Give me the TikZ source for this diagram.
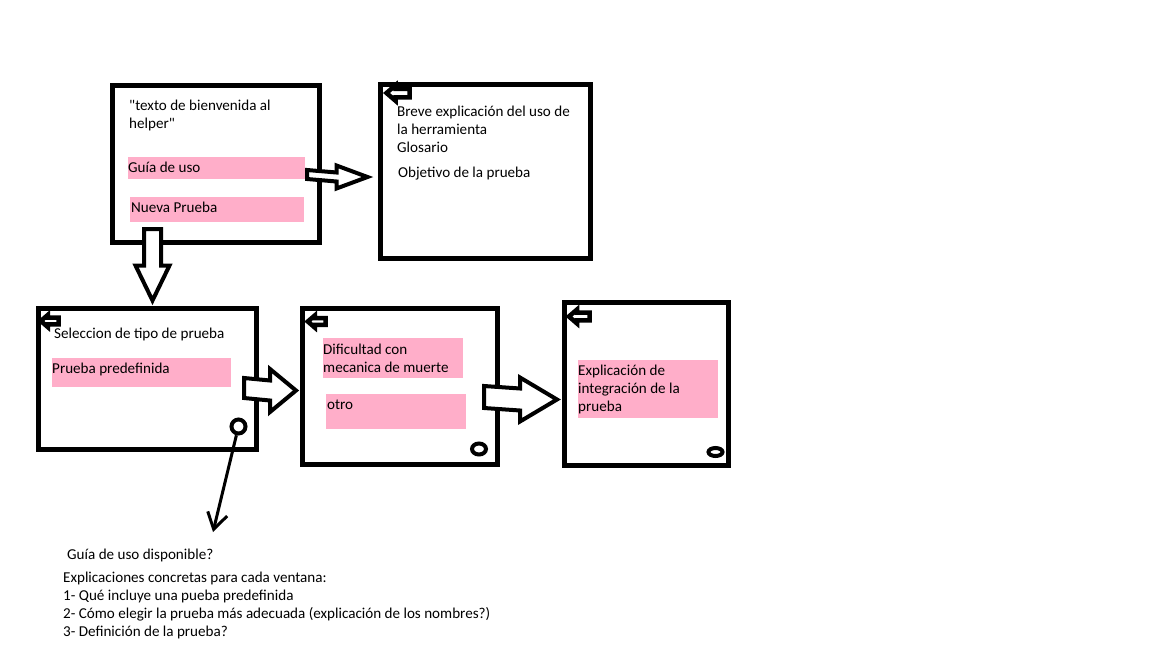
\documentclass[tikz,border=0pt]{standalone}
\usepackage{fontspec}
\setmainfont{Carlito}[Ligatures=TeXOff]
\usetikzlibrary{arrows.meta, calc, positioning, shapes.geometric}
\definecolor{btnpink}{RGB}{255,174,201}
\tikzset{
  screen/.style={draw, line width=5pt, anchor=north west, inner sep=0pt},
  button/.style={fill=btnpink},
  txt/.style={anchor=base west, inner sep=0pt, align=left,
    font=\fontsize{15.1pt}{18pt}\selectfont},
  blockarrow/.style={draw, line width=4pt, fill=white, line join=miter},
  dot/.style={draw, line width=4pt, inner sep=0pt},
  pointer/.style={line width=3pt, -{Straight Barb[length=16pt, width=20pt, line width=3pt]}},
  backbtn/.pic={
    \draw[line width=4.5pt, line join=miter] (1,0) -- (10,-7.75) -- (10,-4.25)
      -- (24,-4.25) -- (24,4.25) -- (10,4.25) -- (10,7.75) -- cycle;
  }
}
\begin{document}
\begin{tikzpicture}[x=1pt, y=-1pt]
  \fill[white] (0,0) rectangle (1152,648);
  \useasboundingbox (0,0) rectangle (1152,648);

  % Screens
  \node[screen, minimum width=207pt, minimum height=157pt] (welcome) at (109.5,82.5) {};
  \node[screen, minimum width=210pt, minimum height=174pt] (guide) at (377.5,81.5) {};
  \node[screen, minimum width=218pt, minimum height=141pt] (select) at (35.5,305.5) {};
  \node[screen, minimum width=195pt, minimum height=156pt] (difficulty) at (299.5,305.5) {};
  \node[screen, minimum width=164pt, minimum height=163pt] (integration) at (561.5,299.5) {};

  % Buttons
  \fill[button] (128,157) rectangle (305,179);
  \fill[button] (130,197) rectangle (304,222);
  \fill[button] (52,358) rectangle (231,387);
  \fill[button] (323,338) rectangle (463,378);
  \fill[button] (326,394) rectangle (466,429);
  \fill[button] (578,360) rectangle (718,418);

  % Texts (base = last line)
  \node[txt] (welcomeTxt) at (129,128) {"texto de bienvenida al\\helper"};
  \node[txt] (guideBtn) at (128,172) {Guía de uso};
  \node[txt] (newBtn) at (131,212) {Nueva Prueba};
  \node[txt] (guideTxt) at (397,152) {Breve explicación del uso de\\la herramienta\\Glosario};
  \node[txt] (goalTxt) at (398,177) {Objetivo de la prueba};
  \node[txt] (selectTxt) at (54,338) {Seleccion de tipo de prueba};
  \node[txt] (presetBtn) at (52,373) {Prueba predefinida};
  \node[txt] (deathBtn) at (323,372) {Dificultad con\\mecanica de muerte};
  \node[txt] (otherBtn) at (327,409) {otro};
  \node[txt] (integrationTxt) at (578,411) {Explicación de\\integración de la\\prueba};
  \node[txt] (helpQ) at (67,559) {Guía de uso disponible?};
  \node[txt] (helpTxt) at (63,636) {Explicaciones concretas para cada ventana:\\
    1- Qué incluye una pueba predefinida\\
    2- Cómo elegir la prueba más adecuada (explicación de los nombres?)\\
    3- Definición de la prueba?};

  % Back buttons
  \pic at (385.5,93) {backbtn};
  \pic[scale=0.78] at (40,321) {backbtn};
  \pic[scale=0.78] at (307,321.5) {backbtn};
  \pic[scale=0.9] at (568,316.5) {backbtn};

  % Help dots
  \node[dot, ellipse, minimum width=14pt, minimum height=14pt] (helpDot) at (238.5,426.5) {};
  \node[dot, ellipse, minimum width=14pt, minimum height=11pt] (dot2) at (479,449) {};
  \node[dot, ellipse, minimum width=14pt, minimum height=8pt] (dot3) at (715.5,452) {};

  % Flow arrows
  \coordinate (a1tail) at (307,174.5);
  \coordinate (a1tip) at ($(guide.west)+(-10,6)$);
  \draw[blockarrow] ($(a1tail)+(0,-4.5)$) -- ($(a1tip)+(-31,-4.5)$) -- ($(a1tip)+(-31,-11.5)$)
    -- (a1tip) -- ($(a1tip)+(-31,11.5)$) -- ($(a1tip)+(-31,4.5)$) -- ($(a1tail)+(0,4.5)$) -- cycle;

  \coordinate (a2tail) at (152.5,229);
  \coordinate (a2tip) at ($(select.north west)+(117,-5)$);
  \draw[blockarrow] ($(a2tail)+(-8.5,0)$) -- ($(a2tip)+(-8.5,-35)$) -- ($(a2tip)+(-17,-35)$)
    -- (a2tip) -- ($(a2tip)+(17,-35)$) -- ($(a2tip)+(8.5,-35)$) -- ($(a2tail)+(8.5,0)$) -- cycle;

  \coordinate (a3tail) at (244,388);
  \coordinate (a3tip) at ($(difficulty.west)+(-3.5,4.5)$);
  \draw[blockarrow] ($(a3tail)+(0,-10)$) -- ($(a3tip)+(-26,-10)$) -- ($(a3tip)+(-26,-21.5)$)
    -- (a3tip) -- ($(a3tip)+(-26,21.5)$) -- ($(a3tip)+(-26,10)$) -- ($(a3tail)+(0,10)$) -- cycle;

  \coordinate (a4tail) at (484,397);
  \coordinate (a4tip) at ($(integration.west)+(-4.5,16)$);
  \draw[blockarrow] ($(a4tail)+(0,-11)$) -- ($(a4tip)+(-37,-11)$) -- ($(a4tip)+(-37,-22)$)
    -- (a4tip) -- ($(a4tip)+(-37,22)$) -- ($(a4tip)+(-37,11)$) -- ($(a4tail)+(0,11)$) -- cycle;

  % Help pointer
  \coordinate (helpTip) at (213,532);
  \draw[pointer] (helpDot) -- (helpTip);
\end{tikzpicture}
\end{document}
